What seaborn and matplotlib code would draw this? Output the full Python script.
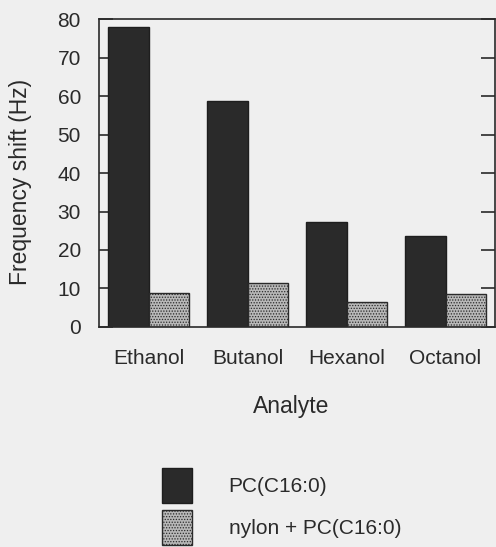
import matplotlib
matplotlib.use("Agg")
import matplotlib.pyplot as plt
import seaborn as sns
import pandas as pd

# Frequency shift per analyte for the two coatings
analytes = ["Ethanol", "Butanol", "Hexanol", "Octanol"]
pc_shift = [78.0, 58.7, 27.3, 23.7]
nylon_pc_shift = [8.8, 11.3, 6.4, 8.5]
series_names = ["PC(C16:0)", "nylon + PC(C16:0)"]
y_ticks = [0, 10, 20, 30, 40, 50, 60, 70, 80]

df = pd.DataFrame({
    "Analyte": analytes * 2,
    "Shift": pc_shift + nylon_pc_shift,
    "Coating": [series_names[0]] * len(analytes) + [series_names[1]] * len(analytes),
})

sns.set_theme(style="white")
plt.rcParams["font.family"] = ["Liberation Sans", "DejaVu Sans"]
plt.rcParams["hatch.linewidth"] = 0.6

bg = "#efefef"
fig = plt.figure(figsize=(4.96, 5.47), dpi=100, facecolor=bg)
ax = fig.add_axes([0.1996, 0.4027, 0.7984, 0.5617], facecolor=bg)

sns.barplot(
    data=df, x="Analyte", y="Shift", hue="Coating",
    order=analytes, hue_order=series_names,
    palette=["#2a2a2a", "#b8b8b8"], width=0.81,
    edgecolor="#1e1e1e", linewidth=1.0, saturation=1,
    legend=False, ax=ax,
)

# stippled fill for the nylon series
for bar in ax.containers[1]:
    bar.set_hatch("......")
    bar.set_edgecolor("#2a2a2a")

ax.set_xlim(-0.5, 3.5)
ax.set_ylim(0, 80)
ax.set_yticks(y_ticks)

for side in ["left", "right", "top", "bottom"]:
    ax.spines[side].set_visible(True)
    ax.spines[side].set_color("#2a2a2a")
    ax.spines[side].set_linewidth(1.2)

ax.tick_params(axis="y", which="both", direction="in", length=10, width=1.2,
               color="#2a2a2a", left=True, right=True, labelsize=15,
               pad=13, labelcolor="#2a2a2a")
ax.tick_params(axis="x", length=0, labelsize=15, pad=16, labelcolor="#2a2a2a")

ax.set_ylabel("Frequency shift (Hz)", fontsize=16.5, color="#2a2a2a")
ax.set_xlabel("Analyte", fontsize=16.5, color="#2a2a2a")
ax.yaxis.set_label_coords(-0.17, 0.47)
ax.xaxis.set_label_coords(0.485, -0.222)

handles = [ax.containers[0][0], ax.containers[1][0]]
fig.legend(
    handles, series_names, loc="upper left",
    bbox_to_anchor=(162 / 496, 1 - 468 / 547), bbox_transform=fig.transFigure,
    frameon=False, fontsize=15, borderpad=0, borderaxespad=0,
    handlelength=1.45, handleheight=2.21, handletextpad=1.75,
    labelspacing=0.34, labelcolor="#2a2a2a",
)

fig.savefig("out.png", dpi=100, facecolor=bg)
